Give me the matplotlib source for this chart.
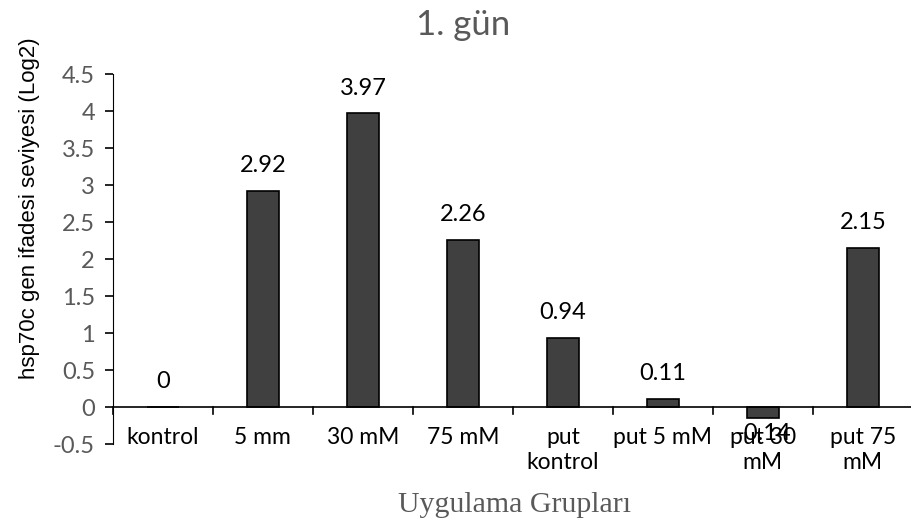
import matplotlib.pyplot as plt
import numpy as np

# 1. gün hsp70c ifade verileri
gruplar = ['kontrol', '5 mm', '30 mM', '75 mM', 'put\nkontrol', 'put 5 mM', 'put 30\nmM', 'put 75\nmM']
degerler = [0, 2.92, 3.97, 2.26, 0.94, 0.11, -0.14, 2.15]
y_ticks = [-0.5, 0, 0.5, 1, 1.5, 2, 2.5, 3, 3.5, 4, 4.5]

sans = ['Lato', 'DejaVu Sans']

fig = plt.figure(figsize=(9.11, 5.25), dpi=100)
ax = fig.add_axes([0.124, 0.154, 0.878, 0.705])

x = np.arange(len(gruplar))
ax.bar(x, degerler, width=0.32, color='#404040', edgecolor='black', linewidth=1.2, zorder=3)

ax.set_xlim(-0.5, len(gruplar) - 0.5)
ax.set_ylim(-0.5, 4.5)

# sadece sol eksen ve y=0 cizgisi
for s in ['top', 'right', 'bottom']:
    ax.spines[s].set_visible(False)
ax.spines['left'].set_color('black')
ax.axhline(0, color='black', linewidth=1.2, zorder=4)

ax.set_yticks(y_ticks)
ax.set_yticklabels([f'{t:g}' for t in y_ticks], fontfamily=sans, fontsize=17, color='#595959')
ax.tick_params(axis='y', direction='out', length=6, width=1.2, pad=7)

# x ekseni: kategori sinirlarinda asagi bakan cizgiler
ax.set_xticks([])
for b in np.arange(0, len(gruplar)) - 0.5:
    ax.plot([b, b], [0, -0.09], color='black', linewidth=1.2, zorder=4, clip_on=False)

for i, g in enumerate(gruplar):
    ax.text(i, -0.27, g, ha='center', va='top', fontsize=16.5, family=sans,
            color='black', linespacing=1.2, clip_on=False)

# veri etiketleri
for i, v in enumerate(degerler):
    if v < 0:
        ax.text(i, v - 0.21, f'{v:g}', ha='center', va='center', fontsize=17, family=sans)
    else:
        ax.text(i, v + 0.34, f'{v:g}', ha='center', va='center', fontsize=17, family=sans)

fig.text(0.508, 0.952, '1. gün', ha='center', va='center', fontsize=25, family=sans, color='#595959')
fig.text(0.032, 0.604, 'hsp70c gen ifadesi seviyesi (Log2)', rotation=90, ha='center', va='center',
         fontsize=16, family='Liberation Sans', color='black')
fig.text(0.565, 0.038, 'Uygulama Grupları', ha='center', va='center', fontsize=21.5,
         family='Liberation Serif', color='#595959')

fig.savefig('out.png', dpi=100)
